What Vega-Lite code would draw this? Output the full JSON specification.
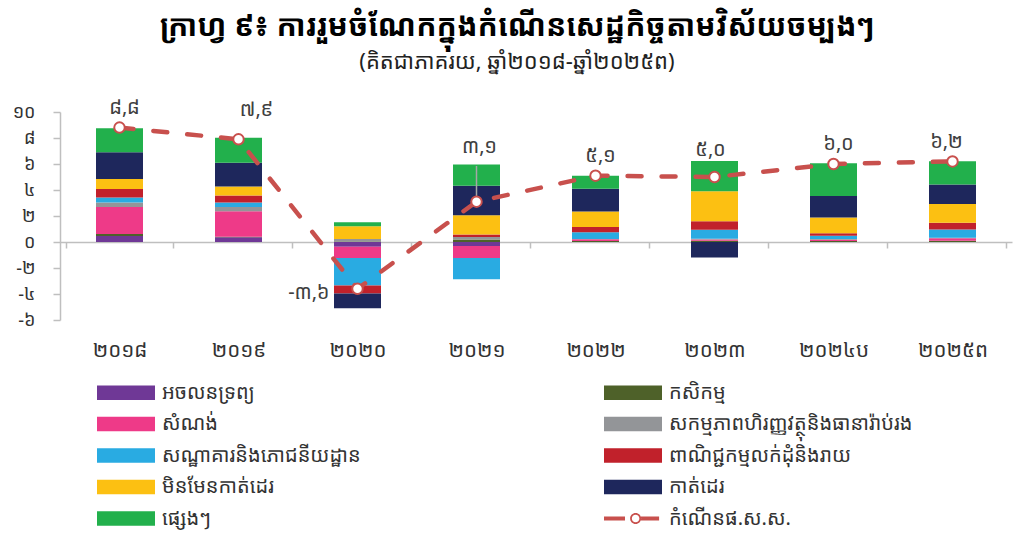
{
  "$schema": "https://vega.github.io/schema/vega-lite/v6.json",
  "width": 952,
  "height": 208,
  "autosize": {"type": "none"},
  "padding": {"left": 60, "top": 112, "right": 15, "bottom": 213},
  "background": "white",
  "config": {
    "view": {"stroke": null},
    "font": "Noto Sans Khmer, Noto Sans, sans-serif",
    "axis": {"labelOverlap": false}
  },
  "title": {
    "text": "ក្រាហ្វ ៩៖ ការរួមចំណែកក្នុងកំណើនសេដ្ឋកិច្ចតាមវិស័យចម្បងៗ",
    "subtitle": "(គិតជាភាគរយ, ឆ្នាំ២០១៨-ឆ្នាំ២០២៥ព)",
    "anchor": "middle",
    "dx": -19,
    "fontSize": 30,
    "fontWeight": "bold",
    "color": "#000000",
    "subtitleFontSize": 22,
    "subtitleColor": "#222222",
    "subtitlePadding": 10,
    "offset": 25
  },
  "datasets": {
    "bars": [
      {"year": "២០១៨", "sector": "អចលនទ្រព្យ", "value": 0.46},
      {"year": "២០១៨", "sector": "កសិកម្ម", "value": 0.15},
      {"year": "២០១៨", "sector": "សំណង់", "value": 2.09},
      {"year": "២០១៨", "sector": "សកម្មភាពហិរញ្ញវត្ថុនិងធានារ៉ាប់រង", "value": 0.34},
      {"year": "២០១៨", "sector": "សណ្ឋាគារនិងភោជនីយដ្ឋាន", "value": 0.39},
      {"year": "២០១៨", "sector": "ពាណិជ្ជកម្មលក់ដុំនិងរាយ", "value": 0.64},
      {"year": "២០១៨", "sector": "មិនមែនកាត់ដេរ", "value": 0.77},
      {"year": "២០១៨", "sector": "កាត់ដេរ", "value": 2.06},
      {"year": "២០១៨", "sector": "ផ្សេងៗ", "value": 1.85},
      {"year": "២០១៩", "sector": "អចលនទ្រព្យ", "value": 0.36},
      {"year": "២០១៩", "sector": "កសិកម្ម", "value": 0.05},
      {"year": "២០១៩", "sector": "សំណង់", "value": 1.96},
      {"year": "២០១៩", "sector": "សកម្មភាពហិរញ្ញវត្ថុនិងធានារ៉ាប់រង", "value": 0.33},
      {"year": "២០១៩", "sector": "សណ្ឋាគារនិងភោជនីយដ្ឋាន", "value": 0.33},
      {"year": "២០១៩", "sector": "ពាណិជ្ជកម្មលក់ដុំនិងរាយ", "value": 0.54},
      {"year": "២០១៩", "sector": "មិនមែនកាត់ដេរ", "value": 0.70},
      {"year": "២០១៩", "sector": "កាត់ដេរ", "value": 1.83},
      {"year": "២០១៩", "sector": "ផ្សេងៗ", "value": 1.91},
      {"year": "២០២០", "sector": "អចលនទ្រព្យ", "value": -0.36},
      {"year": "២០២០", "sector": "កសិកម្ម", "value": 0.03},
      {"year": "២០២០", "sector": "សំណង់", "value": -0.88},
      {"year": "២០២០", "sector": "សកម្មភាពហិរញ្ញវត្ថុនិងធានារ៉ាប់រង", "value": 0.20},
      {"year": "២០២០", "sector": "សណ្ឋាគារនិងភោជនីយដ្ឋាន", "value": -2.11},
      {"year": "២០២០", "sector": "ពាណិជ្ជកម្មលក់ដុំនិងរាយ", "value": -0.62},
      {"year": "២០២០", "sector": "មិនមែនកាត់ដេរ", "value": 0.98},
      {"year": "២០២០", "sector": "កាត់ដេរ", "value": -1.13},
      {"year": "២០២០", "sector": "ផ្សេងៗ", "value": 0.31},
      {"year": "២០២១", "sector": "អចលនទ្រព្យ", "value": -0.31},
      {"year": "២០២១", "sector": "កសិកម្ម", "value": 0.20},
      {"year": "២០២១", "sector": "សំណង់", "value": -0.93},
      {"year": "២០២១", "sector": "សកម្មភាពហិរញ្ញវត្ថុនិងធានារ៉ាប់រង", "value": 0.18},
      {"year": "២០២១", "sector": "សណ្ឋាគារនិងភោជនីយដ្ឋាន", "value": -1.62},
      {"year": "២០២១", "sector": "ពាណិជ្ជកម្មលក់ដុំនិងរាយ", "value": 0.20},
      {"year": "២០២១", "sector": "មិនមែនកាត់ដេរ", "value": 1.47},
      {"year": "២០២១", "sector": "កាត់ដេរ", "value": 2.27},
      {"year": "២០២១", "sector": "ផ្សេងៗ", "value": 1.65},
      {"year": "២០២២", "sector": "កសិកម្ម", "value": 0.08},
      {"year": "២០២២", "sector": "សំណង់", "value": 0.13},
      {"year": "២០២២", "sector": "សកម្មភាពហិរញ្ញវត្ថុនិងធានារ៉ាប់រង", "value": 0.02},
      {"year": "២០២២", "sector": "សណ្ឋាគារនិងភោជនីយដ្ឋាន", "value": 0.52},
      {"year": "២០២២", "sector": "ពាណិជ្ជកម្មលក់ដុំនិងរាយ", "value": 0.41},
      {"year": "២០២២", "sector": "មិនមែនកាត់ដេរ", "value": 1.19},
      {"year": "២០២២", "sector": "កាត់ដេរ", "value": 1.75},
      {"year": "២០២២", "sector": "ផ្សេងៗ", "value": 1.00},
      {"year": "២០២៣", "sector": "កសិកម្ម", "value": 0.10},
      {"year": "២០២៣", "sector": "សំណង់", "value": 0.10},
      {"year": "២០២៣", "sector": "សកម្មភាពហិរញ្ញវត្ថុនិងធានារ៉ាប់រង", "value": 0.05},
      {"year": "២០២៣", "sector": "សណ្ឋាគារនិងភោជនីយដ្ឋាន", "value": 0.70},
      {"year": "២០២៣", "sector": "ពាណិជ្ជកម្មលក់ដុំនិងរាយ", "value": 0.64},
      {"year": "២០២៣", "sector": "មិនមែនកាត់ដេរ", "value": 2.32},
      {"year": "២០២៣", "sector": "កាត់ដេរ", "value": -1.20},
      {"year": "២០២៣", "sector": "ផ្សេងៗ", "value": 2.32},
      {"year": "២០២៤ប", "sector": "កសិកម្ម", "value": 0.08},
      {"year": "២០២៤ប", "sector": "សំណង់", "value": 0.10},
      {"year": "២០២៤ប", "sector": "សកម្មភាពហិរញ្ញវត្ថុនិងធានារ៉ាប់រង", "value": 0.05},
      {"year": "២០២៤ប", "sector": "សណ្ឋាគារនិងភោជនីយដ្ឋាន", "value": 0.26},
      {"year": "២០២៤ប", "sector": "ពាណិជ្ជកម្មលក់ដុំនិងរាយ", "value": 0.18},
      {"year": "២០២៤ប", "sector": "មិនមែនកាត់ដេរ", "value": 1.21},
      {"year": "២០២៤ប", "sector": "កាត់ដេរ", "value": 1.65},
      {"year": "២០២៤ប", "sector": "ផ្សេងៗ", "value": 2.52},
      {"year": "២០២៥ព", "sector": "កសិកម្ម", "value": 0.10},
      {"year": "២០២៥ព", "sector": "សំណង់", "value": 0.18},
      {"year": "២០២៥ព", "sector": "សកម្មភាពហិរញ្ញវត្ថុនិងធានារ៉ាប់រង", "value": 0.05},
      {"year": "២០២៥ព", "sector": "សណ្ឋាគារនិងភោជនីយដ្ឋាន", "value": 0.64},
      {"year": "២០២៥ព", "sector": "ពាណិជ្ជកម្មលក់ដុំនិងរាយ", "value": 0.52},
      {"year": "២០២៥ព", "sector": "មិនមែនកាត់ដេរ", "value": 1.44},
      {"year": "២០២៥ព", "sector": "កាត់ដេរ", "value": 1.49},
      {"year": "២០២៥ព", "sector": "ផ្សេងៗ", "value": 1.80}
    ],
    "gdp": [
      {"year": "២០១៨", "growth": 8.8, "label": "៨,៨"},
      {"year": "២០១៩", "growth": 7.9, "label": "៧,៩"},
      {"year": "២០២០", "growth": -3.6, "label": "-៣,៦"},
      {"year": "២០២១", "growth": 3.1, "label": "៣,១"},
      {"year": "២០២២", "growth": 5.1, "label": "៥,១"},
      {"year": "២០២៣", "growth": 5.0, "label": "៥,០"},
      {"year": "២០២៤ប", "growth": 6.0, "label": "៦,០"},
      {"year": "២០២៥ព", "growth": 6.2, "label": "៦,២"}
    ]
  },
  "layer": [
    {
      "data": {"name": "bars"},
      "transform": [
        {"calculate": "indexof(['អចលនទ្រព្យ','កសិកម្ម','សំណង់','សកម្មភាពហិរញ្ញវត្ថុនិងធានារ៉ាប់រង','សណ្ឋាគារនិងភោជនីយដ្ឋាន','ពាណិជ្ជកម្មលក់ដុំនិងរាយ','មិនមែនកាត់ដេរ','កាត់ដេរ','ផ្សេងៗ'], datum.sector)", "as": "stackRank"}
      ],
      "mark": {"type": "bar", "size": 47},
      "encoding": {
        "x": {
          "field": "year", "type": "nominal", "sort": null,
          "scale": {"domain": ["២០១៨", "២០១៩", "២០២០", "២០២១", "២០២២", "២០២៣", "២០២៤ប", "២០២៥ព"]},
          "axis": {
            "title": null, "orient": "bottom", "offset": -78, "tickBand": "extent", "tickSize": 6,
            "tickColor": "#bfbfbf", "domainColor": "#bfbfbf", "domainWidth": 1.5, "tickWidth": 1.5,
            "labelPadding": 92, "labelFontSize": 20.5, "labelAngle": 0, "labelColor": "#333333"
          }
        },
        "y": {
          "field": "value", "type": "quantitative", "stack": "zero",
          "scale": {"domain": [-6, 10], "nice": false},
          "axis": {
            "title": null, "values": [-6, -4, -2, 0, 2, 4, 6, 8, 10], "tickCount": 20, "grid": false, "labelOverlap": false,
            "domainColor": "#bfbfbf", "domainWidth": 1.5, "tickColor": "#bfbfbf", "tickWidth": 1.5, "tickSize": 7,
            "labelPadding": 18, "labelFontSize": 18, "labelColor": "#333333",
            "labelExpr": "replace(replace(replace(replace(replace(replace(replace(datum.label,'−','-'),'0','០'),'1','១'),'2','២'),'4','៤'),'6','៦'),'8','៨')"
          }
        },
        "order": {"field": "stackRank", "type": "quantitative", "sort": "ascending"},
        "color": {
          "field": "sector", "type": "nominal",
          "scale": {
            "domain": ["អចលនទ្រព្យ", "កសិកម្ម", "សំណង់", "សកម្មភាពហិរញ្ញវត្ថុនិងធានារ៉ាប់រង", "សណ្ឋាគារនិងភោជនីយដ្ឋាន", "ពាណិជ្ជកម្មលក់ដុំនិងរាយ", "មិនមែនកាត់ដេរ", "កាត់ដេរ", "ផ្សេងៗ", "កំណើនផ.ស.ស."],
            "range": ["#6f3896", "#4e6129", "#ee3a88", "#939598", "#29abe2", "#c1212b", "#fcc012", "#1e275c", "#22b04c", "#c8504d"]
          },
          "legend": {
            "title": null, "orient": "none", "legendX": 37, "legendY": 266, "columns": 2, "direction": "horizontal",
            "symbolType": "M-1,-0.5H3V0.5H-1Z", "symbolSize": 841, "symbolStrokeWidth": 0,
            "labelFontSize": 20, "labelColor": "#333333", "labelOffset": 36, "labelLimit": 600,
            "rowPadding": 6.5, "columnPadding": 243,
            "encode": {
              "symbols": {
                "update": {
                  "shape": {"signal": "datum.value === 'កំណើនផ.ស.ស.' ? 'M-1,-0.14H0.45V0.14H-1Z M1.55,-0.14H2.8V0.14H1.55Z M0.8,0A0.38,0.38 0 1 0 1.56,0A0.38,0.38 0 1 0 0.8,0Z M0.92,0A0.26,0.26 0 1 1 1.44,0A0.26,0.26 0 1 1 0.92,0Z' : 'M-1,-0.5H3V0.5H-1Z'"}
                }
              }
            }
          }
        }
      }
    },
    {
      "data": {"name": "gdp"},
      "transform": [{"filter": "datum.year === '២០២១'"}],
      "mark": {"type": "rule", "color": "#a6a6a6", "strokeWidth": 1.5},
      "encoding": {
        "x": {"field": "year", "type": "nominal", "sort": null},
        "y": {"field": "growth", "type": "quantitative"},
        "y2": {"datum": 5.85}
      }
    },
    {
      "data": {"name": "gdp"},
      "mark": {"type": "line", "color": "#c8504d", "strokeWidth": 4.5, "strokeDash": [14, 20], "strokeCap": "round"},
      "encoding": {
        "x": {"field": "year", "type": "nominal", "sort": null},
        "y": {"field": "growth", "type": "quantitative"}
      }
    },
    {
      "data": {"name": "gdp"},
      "mark": {"type": "point", "filled": true, "fill": "white", "stroke": "#c8504d", "strokeWidth": 2, "size": 110, "opacity": 1, "shape": "circle"},
      "encoding": {
        "x": {"field": "year", "type": "nominal", "sort": null},
        "y": {"field": "growth", "type": "quantitative"}
      }
    },
    {
      "data": {"name": "gdp"},
      "transform": [{"filter": "indexof(['២០១៨','២០២២','២០២៤ប'], datum.year) >= 0"}],
      "mark": {"type": "text", "fontSize": 20, "color": "#404040", "dy": -20, "dx": 5},
      "encoding": {
        "x": {"field": "year", "type": "nominal", "sort": null},
        "y": {"field": "growth", "type": "quantitative"},
        "text": {"field": "label"}
      }
    },
    {
      "data": {"name": "gdp"},
      "transform": [{"filter": "datum.year === '២០២៥ព'"}],
      "mark": {"type": "text", "fontSize": 20, "color": "#404040", "dy": -19, "dx": -6},
      "encoding": {
        "x": {"field": "year", "type": "nominal", "sort": null},
        "y": {"field": "growth", "type": "quantitative"},
        "text": {"field": "label"}
      }
    },
    {
      "data": {"name": "gdp"},
      "transform": [{"filter": "datum.year === '២០១៩'"}],
      "mark": {"type": "text", "fontSize": 20, "color": "#404040", "dy": -29, "dx": 18},
      "encoding": {
        "x": {"field": "year", "type": "nominal", "sort": null},
        "y": {"field": "growth", "type": "quantitative"},
        "text": {"field": "label"}
      }
    },
    {
      "data": {"name": "gdp"},
      "transform": [{"filter": "datum.year === '២០២៣'"}],
      "mark": {"type": "text", "fontSize": 20, "color": "#404040", "dy": -27, "dx": -4},
      "encoding": {
        "x": {"field": "year", "type": "nominal", "sort": null},
        "y": {"field": "growth", "type": "quantitative"},
        "text": {"field": "label"}
      }
    },
    {
      "data": {"name": "gdp"},
      "transform": [{"filter": "datum.year === '២០២១'"}],
      "mark": {"type": "text", "fontSize": 20, "color": "#404040", "dy": -55, "dx": 3},
      "encoding": {
        "x": {"field": "year", "type": "nominal", "sort": null},
        "y": {"field": "growth", "type": "quantitative"},
        "text": {"field": "label"}
      }
    },
    {
      "data": {"name": "gdp"},
      "transform": [{"filter": "datum.year === '២០២០'"}],
      "mark": {"type": "text", "fontSize": 20, "color": "#404040", "align": "right", "dx": -28, "dy": 4},
      "encoding": {
        "x": {"field": "year", "type": "nominal", "sort": null},
        "y": {"field": "growth", "type": "quantitative"},
        "text": {"field": "label"}
      }
    }
  ]
}
